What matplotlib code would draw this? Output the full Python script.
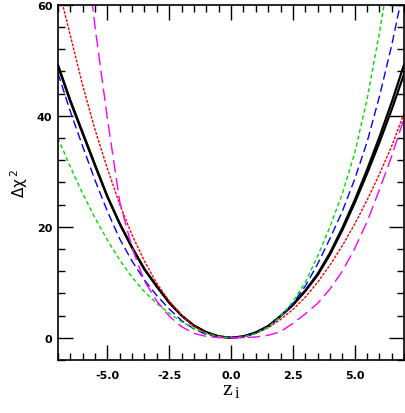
import numpy as np
import matplotlib
matplotlib.use('Agg')
from matplotlib import pyplot as plt
from matplotlib.ticker import MultipleLocator, FormatStrFormatter

z_grid = [-7.0, -6.5, -6.0, -5.5, -5.0, -4.5, -4.0, -3.5, -3.0, -2.5, -2.0, -1.5, -1.0, -0.5, 0.0,
          0.5, 1.0, 1.5, 2.0, 2.5, 3.0, 3.5, 4.0, 4.5, 5.0, 5.5, 6.0, 6.5, 7.0]

black_a = [49.2, 42.8, 37.0, 31.2, 25.5, 20.6, 16.3, 12.4, 9.3, 6.4, 4.0, 2.2, 1.0, 0.25, 0.0,
           0.25, 0.95, 2.1, 3.9, 6.0, 8.5, 11.5, 15.3, 19.8, 24.8, 30.3, 36.2, 42.5, 49.3]
black_b = [49.0, 42.6, 36.8, 31.0, 25.4, 20.5, 16.2, 12.3, 9.2, 6.3, 4.0, 2.2, 1.0, 0.25, 0.0,
           0.25, 0.95, 2.1, 3.9, 5.9, 8.4, 11.3, 15.0, 19.4, 24.3, 29.6, 35.2, 41.2, 47.6]
blue = [47.7, 40.8, 34.5, 28.4, 22.8, 17.8, 13.8, 10.4, 7.6, 5.2, 3.1, 1.6, 0.6, 0.12, 0.0,
        0.2, 0.85, 2.0, 3.8, 6.2, 9.3, 13.3, 17.9, 22.8, 28.6, 35.3, 43.5, 52.8, 63.5]
green = [36.0, 30.8, 26.0, 21.6, 17.6, 14.0, 10.9, 8.3, 6.2, 4.4, 2.9, 1.7, 0.8, 0.2, 0.0,
         0.15, 0.75, 1.9, 3.8, 6.5, 10.0, 14.7, 20.0, 26.0, 33.3, 43.0, 55.0, 68.4, 82.0]
red = [63.5, 54.5, 45.5, 37.5, 30.5, 24.0, 18.5, 13.8, 9.8, 6.6, 4.0, 2.1, 0.85, 0.2, 0.0,
       0.2, 0.8, 1.8, 3.3, 5.1, 7.3, 10.0, 13.1, 16.6, 20.5, 24.8, 29.5, 34.6, 40.5]
magenta = [125.0, 98.0, 76.0, 56.0, 39.5, 24.5, 16.2, 10.2, 6.6, 3.9, 2.0, 0.8, 0.25, 0.03, 0.0,
           0.02, 0.15, 0.45, 1.1, 2.6, 4.3, 6.2, 8.8, 12.0, 16.1, 20.9, 26.7, 32.8, 39.6]

plt.rcParams['font.family'] = ['DejaVu Sans']
plt.rcParams['mathtext.fontset'] = 'custom'
plt.rcParams['mathtext.rm'] = 'Liberation Serif'
plt.rcParams['mathtext.sf'] = 'DejaVu Sans'

fig = plt.figure(figsize=(4.05, 4.14), dpi=100)
ax = fig.add_axes([0.143, 0.128, 0.855, 0.858])

ax.plot(z_grid, black_a, color='black', lw=1.6, linestyle='-')
ax.plot(z_grid, black_b, color='black', lw=1.6, linestyle='-')
ax.plot(z_grid, red, color='red', lw=1.0, linestyle=(0, (2, 1)))
ax.plot(z_grid, blue, color='blue', lw=1.0, linestyle=(0, (6, 3)))
ax.plot(z_grid, green, color='#00e000', lw=1.0, linestyle=(0, (3, 2)))
ax.plot(z_grid, magenta, color='magenta', lw=1.0, linestyle=(0, (9, 4)))

ax.set_xlim(-7, 7)
ax.set_ylim(-4, 60)
ax.xaxis.set_major_locator(MultipleLocator(2.5))
ax.xaxis.set_minor_locator(MultipleLocator(0.5))
ax.xaxis.set_major_formatter(FormatStrFormatter('%.1f'))
ax.yaxis.set_major_locator(MultipleLocator(20))
ax.yaxis.set_minor_locator(MultipleLocator(4))
ax.tick_params(which='both', direction='in', top=True, right=True, width=1.0)
ax.tick_params(which='major', length=10.5)
ax.tick_params(which='minor', length=5)
ax.tick_params(axis='x', which='major', pad=7)
ax.tick_params(axis='y', which='major', pad=4)
for lab in ax.get_xticklabels() + ax.get_yticklabels():
    lab.set_fontsize(8)
    lab.set_fontweight('bold')
for sp in ax.spines.values():
    sp.set_linewidth(1.2)

ax.set_ylabel('Δχ' + r'$^{\,\mathsf{2}}$', fontsize=11, labelpad=5)
ax.set_xlabel(r'$\mathrm{z}_{\,\mathrm{i}}$', fontsize=16, labelpad=0)

fig.savefig('out.png', dpi=100)
